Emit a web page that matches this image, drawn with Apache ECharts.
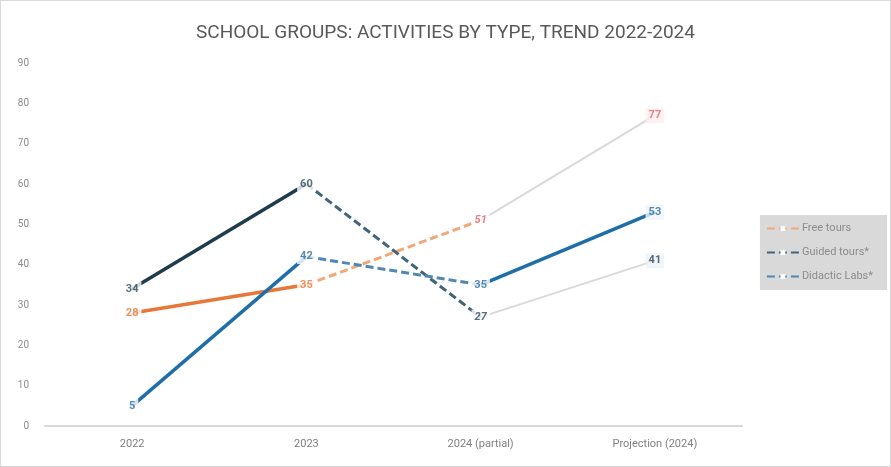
<!DOCTYPE html>
<html>
<head>
<meta charset="utf-8">
<script src="https://cdn.jsdelivr.net/npm/echarts@6/dist/echarts.min.js"></script>
<style>
  html, body { margin: 0; padding: 0; background: #fff; }
  #main { width: 891px; height: 467px; box-sizing: border-box; border: 1px solid #d9d9d9; }
</style>
</head>
<body>
<div id="main"></div>
<script>
(function () {
    'use strict';

    // data
    var categories = ['2022', '2023', '2024 (partial)', 'Projection (2024)'];
    var freeTours = [28, 35, 51, 77];
    var guidedTours = [34, 60, 27, 41];
    var didacticLabs = [5, 42, 35, 53];
    var yTicks = { min: 0, max: 90, step: 10 };

    var myChart = echarts.init(document.getElementById('main'));

    // keep only points from..to, null elsewhere
    function segment(arr, from, to) {
        return arr.map(function (v, i) {
            return (i >= from && i <= to) ? v : null;
        });
    }

    function lineSeg(name, arr, from, to, color, width, type, z) {
        return {
            name: name,
            type: 'line',
            data: segment(arr, from, to),
            symbol: 'rect',
            symbolSize: 4,
            showSymbol: false,
            itemStyle: { color: '#ffffff' },
            lineStyle: { color: color, width: width, type: type },
            emphasis: { disabled: true },
            z: z,
            silent: true
        };
    }

    function labelSeries(name, arr, color, italicIdx, bg) {
        return {
            name: name,
            type: 'scatter',
            symbolSize: 1,
            itemStyle: { color: 'rgba(0,0,0,0)' },
            z: 10,
            data: arr.map(function (v, i) {
                return {
                    value: v,
                    label: {
                        fontStyle: italicIdx.indexOf(i) >= 0 ? 'italic' : 'normal',
                        backgroundColor: bg[i] || '#ffffff'
                    }
                };
            }),
            label: {
                show: true,
                position: 'inside',
                color: color,
                fontSize: 11,
                fontWeight: 'bold',
                fontFamily: 'Roboto',
                padding: [2, 3],
                backgroundColor: '#ffffff'
            }
        };
    }

    var gray = '#d9d9d9';

    var option = {
        animation: false,
        title: {
            text: 'SCHOOL GROUPS: ACTIVITIES BY TYPE, TREND 2022-2024',
            left: 'center',
            top: 18,
            textStyle: {
                fontSize: 19,
                fontWeight: 'normal',
                color: '#595959',
                fontFamily: 'Roboto'
            }
        },
        legend: {
            orient: 'vertical',
            right: 3,
            top: 214,
            backgroundColor: '#d9d9d9',
            padding: [8, 14, 8, 6],
            itemGap: 13,
            itemWidth: 32,
            itemHeight: 6,
            textStyle: { fontSize: 11, color: '#8c8c8c', fontFamily: 'Roboto', padding: [0, 0, 0, -2] },
            data: ['Free tours', 'Guided tours*', 'Didactic Labs*']
        },
        grid: {
            left: 44,
            right: 148,
            top: 62,
            bottom: 40
        },
        xAxis: {
            type: 'category',
            data: categories,
            boundaryGap: true,
            axisLine: { lineStyle: { color: '#d9d9d9', width: 2 } },
            axisTick: { show: false },
            axisLabel: { color: '#808080', fontSize: 11, margin: 13, fontFamily: 'Roboto' }
        },
        yAxis: {
            type: 'value',
            min: yTicks.min,
            max: yTicks.max,
            interval: yTicks.step,
            axisLine: { show: false },
            axisTick: { show: false },
            splitLine: { show: false },
            axisLabel: { color: '#8c8c8c', fontSize: 10, margin: 16, fontFamily: 'Roboto' }
        },
        series: [
            // projection segments (light gray)
            lineSeg('Free tours proj', freeTours, 2, 3, gray, 2, 'solid', 2),
            lineSeg('Guided tours proj', guidedTours, 2, 3, gray, 2, 'solid', 2),
            // solid 2022-2023
            lineSeg('Free tours 22-23', freeTours, 0, 1, '#e8773a', 3.5, 'solid', 3),
            lineSeg('Guided tours 22-23', guidedTours, 0, 1, '#1f3b4e', 3.5, 'solid', 3),
            lineSeg('Didactic Labs 22-23', didacticLabs, 0, 1, '#1f6ea8', 3.5, 'solid', 3),
            // dashed 2023-2024
            lineSeg('Free tours', freeTours, 1, 2, '#f0a878', 3, [8, 4], 4),
            lineSeg('Guided tours*', guidedTours, 1, 2, '#40657b', 3, [8, 4], 4),
            lineSeg('Didactic Labs*', didacticLabs, 1, 2, '#4f87b3', 3, [8, 4], 4),
            // labs projection (solid blue)
            lineSeg('Didactic Labs proj', didacticLabs, 2, 3, '#1f6ea8', 3.5, 'solid', 3),
            // data labels
            labelSeries('Free tours labels', freeTours, '#e8773a', [2], ['#fff', '#fff', '#fff', '#fdeeee']),
            labelSeries('Guided tours labels', guidedTours, '#2c4a5e', [2], ['#fff', '#fff', '#fff', '#eef3f7']),
            labelSeries('Didactic Labs labels', didacticLabs, '#2d6e9e', [], ['#fff', '#fff', '#fff', '#eef5fb'])
        ]
    };

    // a few labels use a different tint
    option.series[9].data[2].label.color = '#e06666';
    option.series[9].data[3].label.color = '#e06666';

    myChart.setOption(option);
    window.addEventListener('resize', function () {
        myChart.resize();
    });
})();
</script>
</body>
</html>
